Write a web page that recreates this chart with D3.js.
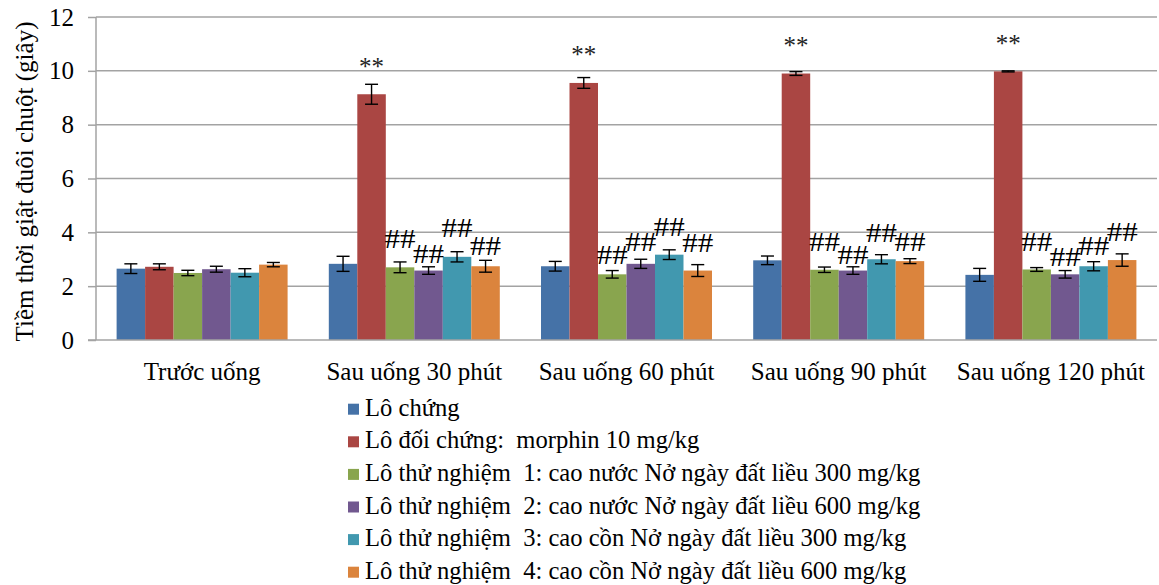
<!DOCTYPE html>
<html>
<head>
<meta charset="utf-8">
<script src="https://cdn.jsdelivr.net/npm/d3@7"></script>
<style>
  html, body { margin: 0; padding: 0; background: #fff; }
  text { font-family: "Liberation Serif", "Times New Roman", serif; white-space: pre; }
</style>
</head>
<body>
<svg id="chart" width="1159" height="585"></svg>
<script>
// ---------- DATA ----------
const categories = ["Trước uống", "Sau uống 30 phút", "Sau uống 60 phút", "Sau uống 90 phút", "Sau uống 120 phút"];
const seriesNames = [
  "Lô chứng",
  "Lô đối chứng:  morphin 10 mg/kg",
  "Lô thử nghiệm  1: cao nước Nở ngày đất liều 300 mg/kg",
  "Lô thử nghiệm  2: cao nước Nở ngày đất liều 600 mg/kg",
  "Lô thử nghiệm  3: cao cồn Nở ngày đất liều 300 mg/kg",
  "Lô thử nghiệm  4: cao cồn Nở ngày đất liều 600 mg/kg"
];
const seriesColors = ["#4572A7", "#AA4643", "#89A54E", "#71588F", "#4198AF", "#DB843D"];
const valuesControl   = [2.65, 2.83, 2.74, 2.96, 2.42];
const valuesMorphin   = [2.72, 9.13, 9.55, 9.90, 9.98];
const valuesTest1     = [2.49, 2.70, 2.44, 2.61, 2.62];
const valuesTest2     = [2.63, 2.58, 2.83, 2.58, 2.44];
const valuesTest3     = [2.50, 3.09, 3.17, 3.00, 2.74];
const valuesTest4     = [2.80, 2.74, 2.58, 2.93, 2.97];
const errControl      = [0.18, 0.28, 0.18, 0.16, 0.24];
const errMorphin      = [0.11, 0.37, 0.20, 0.07, 0.02];
const errTest1        = [0.10, 0.20, 0.14, 0.10, 0.07];
const errTest2        = [0.11, 0.14, 0.17, 0.14, 0.14];
const errTest3        = [0.15, 0.19, 0.18, 0.17, 0.17];
const errTest4        = [0.08, 0.22, 0.22, 0.09, 0.23];
const yTicks = [0, 2, 4, 6, 8, 10, 12];
const yTitle = "Tiềm thời giật đuôi chuột (giây)";
// significance marks: [series index, category index, label, label level (data units)]
const starMarks = [[1, 1, "**", 10.33], [1, 2, "**", 10.78], [1, 3, "**", 11.13], [1, 4, "**", 11.19]];
const hashLevelsTest1 = [3.75, 3.14, 3.64, 3.64];
const hashLevelsTest2 = [3.20, 3.65, 3.16, 3.08];
const hashLevelsTest3 = [4.16, 4.21, 3.98, 3.49];
const hashLevelsTest4 = [3.49, 3.62, 3.64, 4.00];

const allValues = [valuesControl, valuesMorphin, valuesTest1, valuesTest2, valuesTest3, valuesTest4];
const allErrors = [errControl, errMorphin, errTest1, errTest2, errTest3, errTest4];
const hashLevels = [null, null, hashLevelsTest1, hashLevelsTest2, hashLevelsTest3, hashLevelsTest4];

(function draw() {
  const svg = d3.select("#chart");
  const pL = 96, pR = 1157, pT = 17, pB = 340;
  const gridColor = "#a3a3a3";

  const x0 = d3.scaleBand().domain(categories).range([pL, pR]).paddingInner(0).paddingOuter(0);
  const x1 = d3.scaleBand().domain(d3.range(seriesNames.length)).range([0, x0.bandwidth()])
    .paddingInner(0).paddingOuter(0.723);
  const y = d3.scaleLinear().domain([0, 12]).range([pB, pT]);

  // gridlines
  svg.append("g").selectAll("line").data(yTicks.filter(d => d > 0)).join("line")
    .attr("x1", pL).attr("x2", pR)
    .attr("y1", d => y(d)).attr("y2", d => y(d))
    .attr("stroke", gridColor).attr("stroke-width", 1.5);

  // y axis
  const yAxis = svg.append("g").attr("transform", `translate(${pL},0)`)
    .call(d3.axisLeft(y).tickValues(yTicks).tickSize(8).tickPadding(14).tickFormat(d3.format("d")));
  yAxis.attr("font-family", null);
  yAxis.select(".domain").attr("stroke", gridColor).attr("stroke-width", 1.5).attr("d", `M0,${pT}V${pB}`);
  yAxis.selectAll(".tick line").attr("stroke", gridColor).attr("stroke-width", 1.5);
  yAxis.selectAll(".tick text").attr("font-size", 25).attr("fill", "#000");

  // bars
  const groups = svg.append("g").selectAll("g").data(categories).join("g")
    .attr("transform", d => `translate(${x0(d)},0)`);
  groups.each(function(cat, ci) {
    const g = d3.select(this);
    seriesNames.forEach((s, si) => {
      const v = allValues[si][ci];
      g.append("rect")
        .attr("x", x1(si)).attr("width", x1.bandwidth())
        .attr("y", y(v)).attr("height", y(0) - y(v))
        .attr("fill", seriesColors[si]);
    });
    seriesNames.forEach((s, si) => {
      const v = allValues[si][ci], e = allErrors[si][ci];
      const cx = x1(si) + x1.bandwidth() / 2;
      const eg = g.append("g").attr("stroke", "#000").attr("stroke-width", 1.4);
      eg.append("line").attr("x1", cx).attr("x2", cx).attr("y1", y(v + e)).attr("y2", y(v - e));
      eg.append("line").attr("x1", cx - 6.5).attr("x2", cx + 6.5).attr("y1", y(v + e)).attr("y2", y(v + e));
      eg.append("line").attr("x1", cx - 6.5).attr("x2", cx + 6.5).attr("y1", y(v - e)).attr("y2", y(v - e));
    });
  });

  // x axis baseline
  svg.append("line").attr("x1", pL - 8).attr("x2", pR).attr("y1", y(0)).attr("y2", y(0))
    .attr("stroke", gridColor).attr("stroke-width", 1.5);

  // category labels
  svg.append("g").selectAll("text").data(categories).join("text")
    .attr("x", d => x0(d) + x0.bandwidth() / 2).attr("y", 380)
    .attr("text-anchor", "middle").attr("font-size", 25).attr("fill", "#000")
    .text(d => d);

  // star marks
  starMarks.forEach(([si, ci, label, lvl]) => {
    const cx = x0(categories[ci]) + x1(si) + x1.bandwidth() / 2;
    svg.append("text").attr("x", cx).attr("y", y(lvl) + 24 * 0.55)
      .attr("text-anchor", "middle").attr("font-size", 25).attr("fill", "#222").text(label);
  });
  // hash marks
  hashLevels.forEach((lv, si) => {
    if (!lv) return;
    lv.forEach((lvl, k) => {
      const ci = k + 1;
      const cx = x0(categories[ci]) + x1(si) + x1.bandwidth() / 2;
      svg.append("text").attr("x", cx - 15.5).attr("y", y(lvl))
        .attr("dominant-baseline", "central")
        .attr("font-size", 27)
        .attr("textLength", 31).attr("lengthAdjust", "spacingAndGlyphs")
        .attr("fill", "#000").text("##");
    });
  });

  // y title
  svg.append("text").attr("transform", `translate(33,${(pT + pB) / 2 + 3}) rotate(-90)`)
    .attr("text-anchor", "middle").attr("font-size", 25).attr("fill", "#000").text(yTitle);

  // legend
  const legend = svg.append("g").selectAll("g").data(seriesNames).join("g")
    .attr("transform", (d, i) => `translate(348,${415.7 + i * 32.6})`);
  legend.append("rect").attr("x", 0).attr("y", -12).attr("width", 11).attr("height", 11)
    .attr("fill", (d, i) => seriesColors[i]);
  legend.append("text").attr("x", 17).attr("y", 0).attr("font-size", 24.6).attr("fill", "#000").text(d => d);
})();
</script>
</body>
</html>
